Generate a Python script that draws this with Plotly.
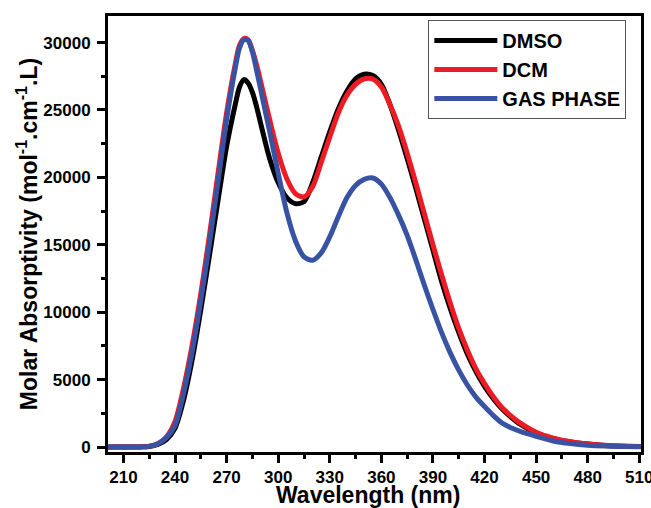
import plotly.graph_objects as go

wavelength = [200, 210, 220, 225, 230, 235, 240, 245, 250, 255, 260, 265, 270, 275, 277.5, 280, 282.5,
              285, 287.5, 290, 295, 300, 305, 310, 315, 320, 325, 330, 335, 340, 345, 350, 355,
              360, 365, 370, 375, 380, 385, 390, 395, 400, 405, 410, 415, 420, 425, 430,
              435, 440, 450, 460, 470, 480, 490, 500, 512]

dmso = [0, 0, 10, 40, 200, 550, 1400, 3500, 6500, 10200, 14200, 18300, 22300, 25400, 26700, 27250, 27000,
        26300, 25200, 23900, 21400, 19600, 18500, 18050, 18200, 19600, 21500, 23400, 25100, 26400, 27300, 27650, 27550,
        26900, 25400, 23500, 21400, 19200, 16900, 14600, 12300, 10300, 8500, 6900, 5600, 4500, 3600, 2850,
        2250, 1750, 1050, 620, 370, 220, 120, 65, 30]

dcm = [0, 0, 10, 60, 250, 750, 1900, 4400, 7600, 11400, 15700, 20300, 24800, 28400, 29800, 30300, 30200,
       29400, 28300, 27000, 24300, 21800, 19900, 18800, 18550, 19300, 21100, 23000, 24800, 26100, 26900, 27300, 27300,
       26700, 25400, 23800, 21800, 19600, 17300, 15000, 12800, 10700, 8800, 7200, 5800, 4700, 3750, 2950,
       2350, 1850, 1100, 660, 400, 230, 130, 70, 35]

gas = [0, 0, 10, 50, 250, 680, 1600, 4000, 7100, 10900, 15100, 19700, 24300, 28100, 29600, 30200, 30150,
       29300, 27900, 26400, 23400, 20300, 17400, 15300, 14100, 13850, 14400, 15600, 17100, 18500, 19400, 19850, 19950,
       19500, 18500, 17200, 15700, 13900, 12000, 10200, 8500, 7000, 5700, 4600, 3700, 3000, 2350, 1800,
       1450, 1200, 800, 450, 250, 130, 70, 40, 20]

series_names = ["DMSO", "DCM", "GAS PHASE"]
series_values = [dmso, dcm, gas]
series_colors = ["#000000", "#ED1C24", "#3953A4"]

x_title = "Wavelength (nm)"
y_title = "Molar Absorptivity (mol<sup>-1</sup>.cm<sup>-1</sup>.L)"

FONT = "Liberation Sans, Arial, sans-serif"

fig = go.Figure()
for name, vals, col in zip(series_names, series_values, series_colors):
    fig.add_trace(go.Scatter(
        x=wavelength, y=vals, name=name, mode="lines",
        line=dict(color=col, width=5, shape="spline", smoothing=0.8),
    ))

axis_common = dict(
    showline=True, linecolor="black", linewidth=3, mirror=True,
    ticks="outside", ticklen=8, tickwidth=2.5, tickcolor="black",
    showgrid=False, zeroline=False, automargin=False,
    ticklabeloverflow="allow",
    tickfont=dict(family=FONT, size=17, color="black", weight="bold"),
)

fig.update_xaxes(
    **axis_common,
    range=[201, 511], tick0=210, dtick=30,
    minor=dict(ticks="outside", ticklen=4, tickwidth=2.5, tickcolor="black", dtick=15, tick0=210),
)
fig.update_yaxes(
    **axis_common,
    range=[-370, 31970], tick0=0, dtick=5000, tickformat="d",
    ticklabelstandoff=3,
    minor=dict(ticks="outside", ticklen=4, tickwidth=2.5, tickcolor="black", dtick=2500, tick0=0),
    title=dict(text=y_title, standoff=0,
               font=dict(family=FONT, size=23, color="black", weight="bold")),
)

fig.add_annotation(
    text=x_title, xref="paper", yref="paper", x=0.487, y=-0.099,
    xanchor="center", yanchor="middle", showarrow=False,
    font=dict(family=FONT, size=23, color="black", weight="bold"),
)

fig.update_layout(
    width=651, height=508,
    margin=dict(l=108, r=10, t=16, b=56),
    plot_bgcolor="white", paper_bgcolor="white",
    legend=dict(
        x=0.601, y=0.991, xanchor="left", yanchor="top",
        bgcolor="white", bordercolor="#555555", borderwidth=1,
        font=dict(family=FONT, size=20, color="black", weight="bold"),
        tracegroupgap=0, itemwidth=63,
    ),
)

fig.write_html(
    "out.html",
    config={"displayModeBar": False},
    post_script="document.body.style.margin='0';document.body.style.overflow='hidden';",
)
